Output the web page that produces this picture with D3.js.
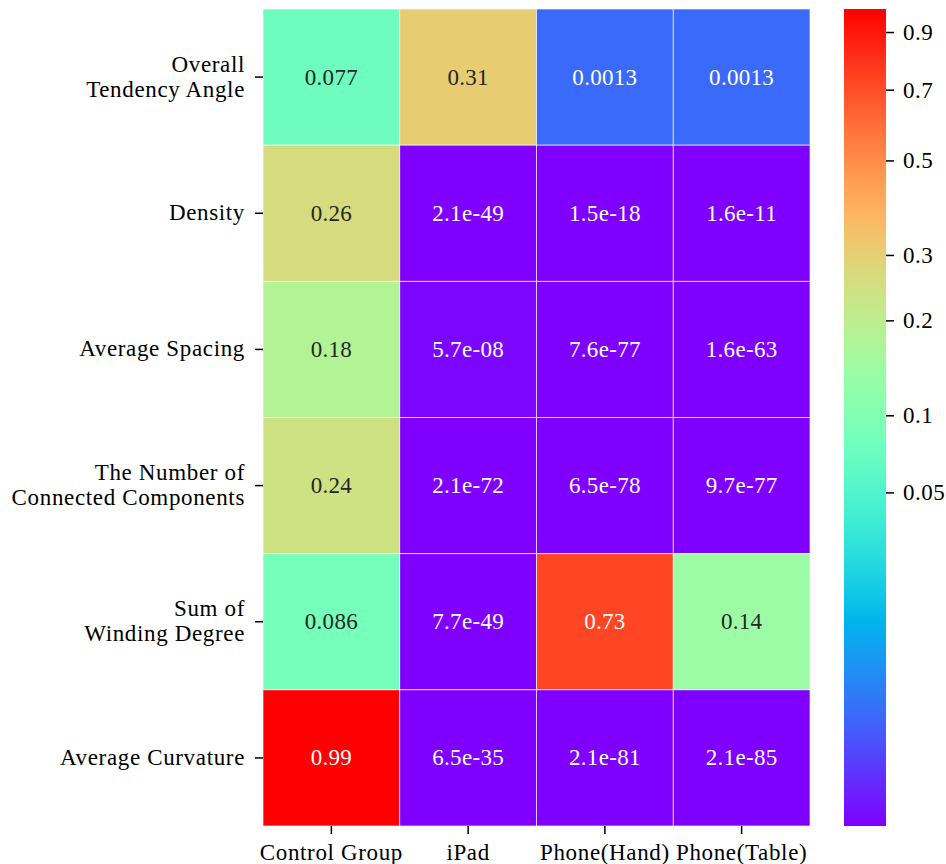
<!DOCTYPE html>
<html>
<head>
<meta charset="utf-8">
<script src="https://cdn.jsdelivr.net/npm/d3@7"></script>
<style>
  html, body { margin: 0; padding: 0; background: #fff; }
  svg text { font-family: "Liberation Serif", "Times New Roman", Times, serif; fill: #000; }
</style>
</head>
<body>
<svg id="chart" width="946" height="864"></svg>
<script>
// Categories
const rowLabels = [
  ["Overall", "Tendency Angle"],
  ["Density"],
  ["Average Spacing"],
  ["The Number of", "Connected Components"],
  ["Sum of", "Winding Degree"],
  ["Average Curvature"]
];
const colLabels = ["Control Group", "iPad", "Phone(Hand)", "Phone(Table)"];

// p-values, one array per row
const overallTendencyAngle = [0.077, 0.31, 0.0013, 0.0013];
const density              = [0.26, 2.1e-49, 1.5e-18, 1.6e-11];
const averageSpacing       = [0.18, 5.7e-08, 7.6e-77, 1.6e-63];
const connectedComponents  = [0.24, 2.1e-72, 6.5e-78, 9.7e-77];
const windingDegree        = [0.086, 7.7e-49, 0.73, 0.14];
const averageCurvature     = [0.99, 6.5e-35, 2.1e-81, 2.1e-85];
const rows = [overallTendencyAngle, density, averageSpacing,
              connectedComponents, windingDegree, averageCurvature];

// Colour bar ticks
const colorbarTicks = [0.05, 0.1, 0.2, 0.3, 0.5, 0.7, 0.9];

const svg = d3.select("#chart");
const plotLeft = 263, plotRight = 810, plotTop = 9, plotBottom = 826;
const cbLeft = 844, cbRight = 886;
const fontSize = 23;
const labelSpacing = "0.65px";

const x = d3.scaleBand().domain(d3.range(colLabels.length)).range([plotLeft, plotRight]);
const y = d3.scaleBand().domain(d3.range(rowLabels.length)).range([plotTop, plotBottom]);

// Power normalisation (gamma 0.3) from 0 to the largest value
const vmax = d3.max(rows.flat());
const norm = d3.scalePow().exponent(0.3).domain([0, vmax]).range([0, 1]).clamp(true);

// Rainbow colormap
function rainbow(t) {
  const r = Math.min(1, Math.abs(2 * t - 0.5));
  const g = Math.sin(Math.PI * t);
  const b = Math.cos(Math.PI * t / 2);
  return d3.rgb(r * 255, g * 255, b * 255);
}
const color = v => rainbow(norm(v));

function luminance(c) {
  const lin = ch => { const s = ch / 255; return s <= 0.03928 ? s / 12.92 : Math.pow((s + 0.055) / 1.055, 2.4); };
  return 0.2126 * lin(c.r) + 0.7152 * lin(c.g) + 0.0722 * lin(c.b);
}

// two significant digits, exponent padded to two digits
function fmt(v) {
  let s = v.toPrecision(2);
  if (v < 1e-4) s = v.toExponential(1);
  return s.replace(/e([+-])(\d)$/, "e$10$2");
}

const cells = [];
rows.forEach((r, i) => r.forEach((v, j) => cells.push({ i, j, v })));

const cellG = svg.append("g");
cellG.selectAll("rect").data(cells).join("rect")
  .attr("x", d => x(d.j))
  .attr("y", d => y(d.i))
  .attr("width", x.bandwidth())
  .attr("height", y.bandwidth())
  .attr("fill", d => color(d.v))
  .attr("stroke", "#fff")
  .attr("stroke-width", 0.8)
  .attr("stroke-opacity", 0.8);

cellG.selectAll("text").data(cells).join("text")
  .attr("x", d => x(d.j) + x.bandwidth() / 2)
  .attr("y", d => y(d.i) + y.bandwidth() / 2)
  .attr("text-anchor", "middle")
  .attr("dominant-baseline", "central")
  .style("font-size", fontSize + "px")
  .style("letter-spacing", "0.3px")
  .style("fill", d => luminance(color(d.v)) > 0.408 ? "#262626" : "#ffffff")
  .text(d => fmt(d.v));

// Row axis
const rowAxis = svg.append("g").attr("transform", `translate(${plotLeft},0)`)
  .call(d3.axisLeft(y).tickSize(8).tickPadding(10).tickFormat(() => ""));
rowAxis.select(".domain").remove();
rowAxis.selectAll(".tick line").attr("stroke", "#000").attr("stroke-width", 1.5);
rowAxis.selectAll(".tick text").remove();
rowAxis.selectAll(".tick").each(function(d) {
  const lines = rowLabels[d];
  const lh = 25;
  const t = d3.select(this).append("text")
    .attr("x", -18)
    .attr("text-anchor", "end")
    .style("font-size", fontSize + "px")
    .style("letter-spacing", labelSpacing);
  lines.forEach((ln, k) => {
    t.append("tspan")
      .attr("x", -18)
      .attr("y", (k - (lines.length - 1) / 2) * lh - 1)
      .attr("dy", "0.35em")
      .text(ln);
  });
});

// Column axis
const colAxis = svg.append("g").attr("transform", `translate(0,${plotBottom})`)
  .call(d3.axisBottom(x).tickSize(8).tickPadding(10).tickFormat(j => colLabels[j]));
colAxis.select(".domain").remove();
colAxis.selectAll(".tick line").attr("stroke", "#000").attr("stroke-width", 1.5);
colAxis.selectAll(".tick text")
  .style("font-size", fontSize + "px")
  .style("letter-spacing", labelSpacing)
  .style("font-family", "\"Liberation Serif\", \"Times New Roman\", serif")
  .attr("fill", "#000");

// Colour bar
const cbScale = d3.scalePow().exponent(0.3).domain([0, vmax]).range([plotBottom, plotTop]);
const defs = svg.append("defs");
const grad = defs.append("linearGradient").attr("id", "cbgrad")
  .attr("x1", 0).attr("y1", 1).attr("x2", 0).attr("y2", 0);
d3.range(0, 1.0001, 1 / 64).forEach(t => {
  grad.append("stop").attr("offset", t).attr("stop-color", rainbow(t).formatHex());
});
svg.append("rect")
  .attr("x", cbLeft).attr("y", plotTop)
  .attr("width", cbRight - cbLeft).attr("height", plotBottom - plotTop)
  .attr("fill", "url(#cbgrad)");

const cbAxis = svg.append("g").attr("transform", `translate(${cbRight},0)`)
  .call(d3.axisRight(cbScale).tickValues(colorbarTicks).tickSize(8).tickPadding(9)
    .tickFormat(d => String(d)));
cbAxis.select(".domain").remove();
cbAxis.selectAll(".tick line").attr("stroke", "#000").attr("stroke-width", 1.5);
cbAxis.selectAll(".tick text")
  .style("font-size", fontSize + "px")
  .style("letter-spacing", "0.5px")
  .style("font-family", "\"Liberation Serif\", \"Times New Roman\", serif")
  .attr("fill", "#000");
</script>
</body>
</html>
